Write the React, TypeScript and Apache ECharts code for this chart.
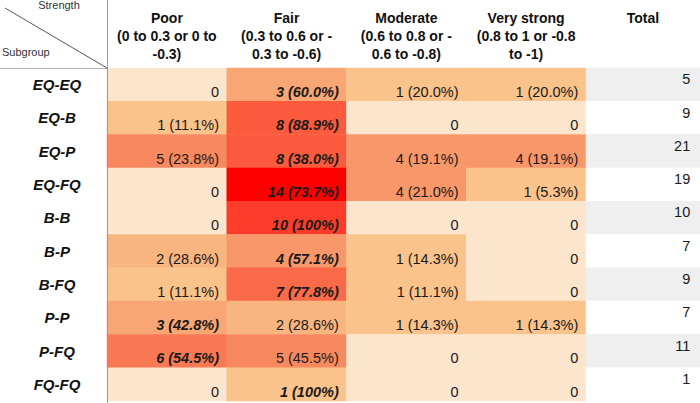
import React, { useEffect, useRef } from 'react';
import * as echarts from 'echarts';

const subgroups = ['EQ-EQ', 'EQ-B', 'EQ-P', 'EQ-FQ', 'B-B', 'B-P', 'B-FQ', 'P-P', 'P-FQ', 'FQ-FQ'];
const strengthTitles = ['Poor', 'Fair', 'Moderate', 'Very strong'];
const strengthRanges = [
  '(0 to 0.3 or 0 to\n-0.3)',
  '(0.3 to 0.6 or -\n0.3 to -0.6)',
  '(0.6 to 0.8 or -\n0.6 to -0.8)',
  '(0.8 to 1 or -0.8\nto -1)',
];
const totalTitle = 'Total';

const poor = [0, 1, 5, 0, 0, 2, 1, 3, 6, 0];
const fair = [3, 8, 8, 14, 10, 4, 7, 2, 5, 1];
const moderate = [1, 0, 4, 4, 0, 1, 1, 1, 0, 0];
const veryStrong = [1, 0, 4, 1, 0, 0, 0, 1, 0, 0];
const totals = [5, 9, 21, 19, 10, 7, 9, 7, 11, 1];

const poorPct = ['', '11.1', '23.8', '', '', '28.6', '11.1', '42.8', '54.5', ''];
const fairPct = ['60.0', '88.9', '38.0', '73.7', '100', '57.1', '77.8', '28.6', '45.5', '100'];
const moderatePct = ['20.0', '', '19.1', '21.0', '', '14.3', '11.1', '14.3', '', ''];
const veryStrongPct = ['20.0', '', '19.1', '5.3', '', '', '', '14.3', '', ''];

const columns = [poor, fair, moderate, veryStrong];
const columnPcts = [poorPct, fairPct, moderatePct, veryStrongPct];

// ---- colour scale (style) ----
const colorStops: [number, string][] = [
  [0, '#fce5cd'],
  [1, '#f9c38b'],
  [5, '#f8895f'],
  [8, '#fb5a3d'],
  [14, '#ff0000'],
];
function hexToRgb(h: string) {
  const n = parseInt(h.slice(1), 16);
  return [(n >> 16) & 255, (n >> 8) & 255, n & 255];
}
function cellColor(v: number) {
  for (let i = 0; i < colorStops.length - 1; i++) {
    const [a, ca] = colorStops[i];
    const [b, cb] = colorStops[i + 1];
    if (v <= b) {
      const t = (v - a) / (b - a);
      const A = hexToRgb(ca);
      const B = hexToRgb(cb);
      const c = A.map((x, k) => Math.round(x + (B[k] - x) * Math.max(0, Math.min(1, t))));
      return `rgb(${c[0]},${c[1]},${c[2]})`;
    }
  }
  return colorStops[colorStops.length - 1][1];
}

export default function App() {
  const ref = useRef<HTMLDivElement>(null);
  useEffect(() => {
    if (!ref.current) return;
    const chart = echarts.init(ref.current, undefined, { renderer: 'svg' });

    const cellData: any[] = [];
    const cellTexts: string[] = [];
    subgroups.forEach((_, r) => {
      const rowVals = columns.map((c) => c[r]);
      const rowMax = Math.max(...rowVals);
      columns.forEach((col, c) => {
        const v = col[r];
        const txt = v === 0 ? '0' : `${v} (${columnPcts[c][r]}%)`;
        const isMax = v === rowMax && v > 0;
        cellTexts.push(txt);
        cellData.push({
          value: [c, r, v],
          label: {
            fontWeight: isMax ? 'bold' : 'normal',
            fontStyle: isMax ? 'italic' : 'normal',
          },
        });
      });
    });

    const totalData = totals.map((t, r) => ({
      value: [0, r, t, r % 2],
    }));

    const maxCount = Math.max(...columns.flat());
    const countPieces: any[] = [];
    for (let n = 0; n <= maxCount; n++) countPieces.push({ value: n, color: cellColor(n) });

    const font = 'Liberation Sans, Arial, sans-serif';

    chart.setOption({
      animation: false,
      backgroundColor: '#ffffff',
      textStyle: { fontFamily: font },
      visualMap: [
        {
          type: 'piecewise',
          show: false,
          seriesIndex: 0,
          dimension: 2,
          pieces: countPieces,
        },
        {
          type: 'piecewise',
          show: false,
          seriesIndex: 1,
          dimension: 3,
          pieces: [
            { value: 0, color: '#efefef' },
            { value: 1, color: '#ffffff' },
          ],
        },
      ],
      grid: [
        { left: 107, top: 68, width: 479, height: 333 },
        { left: 586, top: 68, width: 114, height: 333 },
      ],
      xAxis: [
        {
          type: 'category',
          gridIndex: 0,
          position: 'top',
          data: strengthTitles,
          axisLine: { show: true, lineStyle: { color: '#c9a88c', width: 1 } },
          axisTick: { show: false },
          splitLine: { show: false },
          axisLabel: {
            interval: 0,
            margin: 5,
            fontFamily: font,
            fontSize: 14,
            fontWeight: 'bold',
            color: '#111',
            lineHeight: 18,
            align: 'center',
            formatter: (v: string, i: number) => `${v}\n${strengthRanges[i]}`,
          },
        },
        {
          type: 'category',
          gridIndex: 1,
          position: 'top',
          data: [totalTitle],
          axisLine: { show: true, lineStyle: { color: '#b0b0b0', width: 1 } },
          axisTick: { show: false },
          splitLine: { show: false },
          axisLabel: {
            interval: 0,
            margin: 5,
            fontFamily: font,
            fontSize: 14,
            fontWeight: 'bold',
            color: '#111',
            lineHeight: 18,
            formatter: (v: string) => `${v}\n \n `,
          },
        },
      ],
      yAxis: [
        {
          type: 'category',
          gridIndex: 0,
          inverse: true,
          data: subgroups,
          axisLine: { show: false },
          axisTick: { show: false },
          splitLine: { show: false },
          axisLabel: {
            interval: 0,
            margin: 50,
            align: 'center',
            fontFamily: font,
            fontSize: 15,
            fontWeight: 'bold',
            fontStyle: 'italic',
            color: '#111',
          },
        },
        {
          type: 'category',
          gridIndex: 1,
          inverse: true,
          data: subgroups,
          show: false,
        },
      ],
      series: [
        {
          type: 'heatmap',
          xAxisIndex: 0,
          yAxisIndex: 0,
          data: cellData,
          emphasis: { disabled: true },
          label: {
            show: true,
            position: 'insideBottomRight',
            distance: 2,
            offset: [-6, 0],
            fontFamily: font,
            fontSize: 14.5,
            color: '#1a1a1a',
            formatter: (p: any) => cellTexts[p.dataIndex],
          },
        },
        {
          type: 'heatmap',
          xAxisIndex: 1,
          yAxisIndex: 1,
          data: totalData,
          emphasis: { disabled: true },
          label: {
            show: true,
            position: 'insideTopRight',
            distance: 4,
            offset: [-6, 0],
            fontFamily: font,
            fontSize: 14.5,
            color: '#1a1a1a',
            formatter: (p: any) => String(p.value[2]),
          },
        },
      ],
      graphic: [
        {
          type: 'line',
          shape: { x1: 107.5, y1: 0, x2: 107.5, y2: 403 },
          style: { stroke: '#9a9a9a', lineWidth: 1 },
          z: 100,
        },
        {
          type: 'line',
          shape: { x1: 0, y1: 68.5, x2: 107, y2: 68.5 },
          style: { stroke: '#b0b0b0', lineWidth: 1 },
          z: 100,
        },
        {
          type: 'line',
          shape: { x1: 5, y1: 8, x2: 107, y2: 68 },
          style: { stroke: '#555555', lineWidth: 1 },
          z: 100,
        },
        {
          type: 'text',
          x: 59,
          y: 5,
          style: {
            text: 'Strength',
            font: `11px ${font}`,
            fill: '#333',
            textAlign: 'center',
            textVerticalAlign: 'middle',
          },
          z: 100,
        },
        {
          type: 'text',
          x: 2,
          y: 52,
          style: {
            text: 'Subgroup',
            font: `11px ${font}`,
            fill: '#333',
            textAlign: 'left',
            textVerticalAlign: 'middle',
          },
          z: 100,
        },
      ],
    });
    return () => chart.dispose();
  }, []);
  return (
    <div
      ref={ref}
      style={{ position: 'fixed', left: 0, top: 0, width: 700, height: 403 }}
    />
  );
}
